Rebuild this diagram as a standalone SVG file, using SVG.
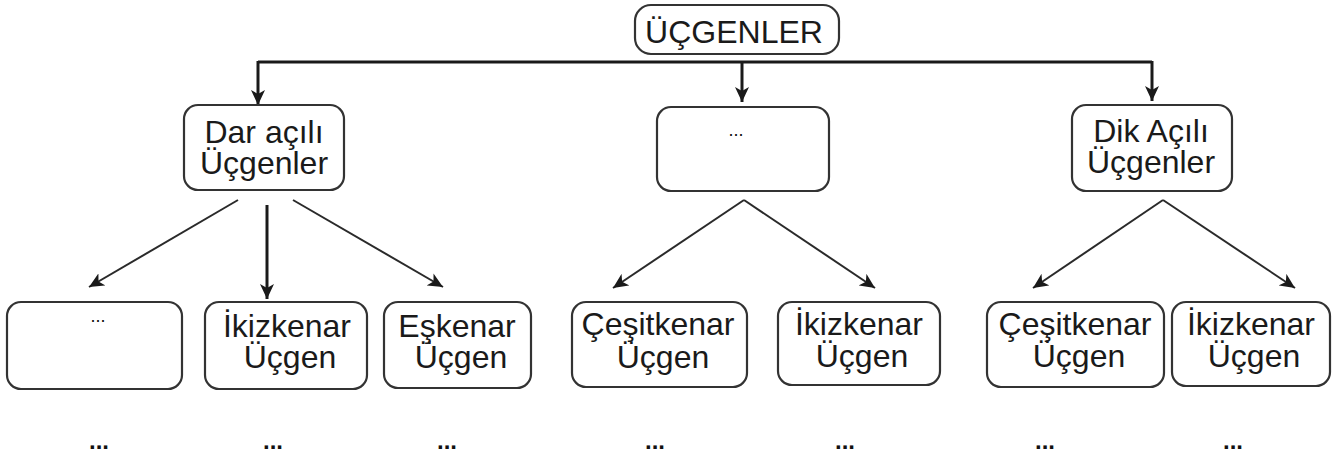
<svg xmlns="http://www.w3.org/2000/svg" width="1339" height="457" viewBox="0 0 1339 457">
<style>
.box{fill:#fff;stroke:#333;stroke-width:2.2}
.t{font-family:"Liberation Sans",Arial,sans-serif;font-size:32px;fill:#1a1a1a;text-anchor:middle}
.dots{font-family:"Liberation Sans",Arial,sans-serif;font-size:18px;fill:#111;text-anchor:middle}
.bdots{font-family:"Liberation Sans",Arial,sans-serif;font-size:24px;font-weight:bold;fill:#111;text-anchor:middle}
.thick{stroke:#1a1a1a;stroke-width:3;fill:none}
.thin{stroke:#2a2a2a;stroke-width:2;fill:none}
</style>
<defs>
<marker id="ah" markerUnits="userSpaceOnUse" markerWidth="16" markerHeight="14" refX="15" refY="7" orient="auto">
<path d="M0,0 L15,7 L0,14 L4,7 z" fill="#1a1a1a"/>
</marker>
</defs>
<rect width="1339" height="457" fill="#fff"/>
<g id="connectors">
<path class="thick" d="M258,62 H1152"/>
<line class="thick" x1="258" y1="61" x2="258" y2="105" marker-end="url(#ah)"/>
<line class="thick" x1="742" y1="62" x2="742" y2="102" marker-end="url(#ah)"/>
<line class="thick" x1="1152" y1="61" x2="1152" y2="101" marker-end="url(#ah)"/>
<line class="thin" x1="238" y1="200" x2="89" y2="287" marker-end="url(#ah)"/>
<line class="thick" x1="267" y1="205" x2="267" y2="299" marker-end="url(#ah)"/>
<line class="thin" x1="293" y1="200" x2="443" y2="287" marker-end="url(#ah)"/>
<line class="thin" x1="744" y1="200" x2="613" y2="288" marker-end="url(#ah)"/>
<line class="thin" x1="744" y1="200" x2="875" y2="288" marker-end="url(#ah)"/>
<line class="thin" x1="1163" y1="200" x2="1033" y2="288" marker-end="url(#ah)"/>
<line class="thin" x1="1163" y1="200" x2="1295" y2="288" marker-end="url(#ah)"/>
</g>
<g id="ucgenler">
<rect class="box" x="635" y="5" width="204" height="49" rx="16"/>
<text class="t" x="734" y="43">ÜÇGENLER</text>
</g>
<g id="dar-acili">
<rect class="box" x="184" y="105" width="160" height="85" rx="14"/>
<text class="t" x="264" y="143">Dar açılı</text>
<text class="t" x="264" y="174">Üçgenler</text>
</g>
<g id="orta">
<rect class="box" x="657" y="107" width="172" height="84" rx="14"/>
<text class="dots" x="736" y="136">...</text>
</g>
<g id="dik-acili">
<rect class="box" x="1072" y="105" width="160" height="86" rx="14"/>
<text class="t" x="1151" y="142">Dik Açılı</text>
<text class="t" x="1151" y="173">Üçgenler</text>
</g>
<g id="bos">
<rect class="box" x="7" y="302" width="175" height="87" rx="14"/>
<text class="dots" x="98" y="322">...</text>
</g>
<g id="ikizkenar1">
<rect class="box" x="205" y="302" width="162" height="87" rx="14"/>
<text class="t" x="287" y="337">İkizkenar</text>
<text class="t" x="290" y="368">Üçgen</text>
</g>
<g id="eskenar">
<rect class="box" x="384" y="302" width="147" height="86" rx="14"/>
<text class="t" x="457" y="337">Eşkenar</text>
<text class="t" x="461" y="368">Üçgen</text>
</g>
<g id="cesitkenar2">
<rect class="box" x="572" y="302" width="175" height="85" rx="14"/>
<text class="t" x="658" y="335">Çeşitkenar</text>
<text class="t" x="663" y="368">Üçgen</text>
</g>
<g id="ikizkenar2">
<rect class="box" x="778" y="302" width="162" height="83" rx="14"/>
<text class="t" x="859" y="335">İkizkenar</text>
<text class="t" x="862" y="367">Üçgen</text>
</g>
<g id="cesitkenar3">
<rect class="box" x="987" y="302" width="177" height="85" rx="14"/>
<text class="t" x="1075" y="335">Çeşitkenar</text>
<text class="t" x="1079" y="367">Üçgen</text>
</g>
<g id="ikizkenar3">
<rect class="box" x="1172" y="302" width="158" height="84" rx="14"/>
<text class="t" x="1251" y="335">İkizkenar</text>
<text class="t" x="1254" y="367">Üçgen</text>
</g>
<g id="alt-noktalar">
<text class="bdots" x="99" y="449">...</text>
<text class="bdots" x="273" y="449">...</text>
<text class="bdots" x="447" y="449">...</text>
<text class="bdots" x="655" y="449">...</text>
<text class="bdots" x="845" y="449">...</text>
<text class="bdots" x="1045" y="449">...</text>
<text class="bdots" x="1233" y="449">...</text>
</g>
</svg>
